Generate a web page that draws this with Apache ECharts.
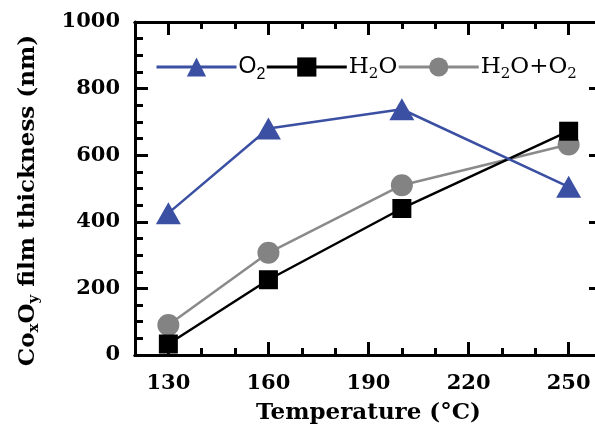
<!DOCTYPE html>
<html><head><meta charset="utf-8">
<script src="https://cdn.jsdelivr.net/npm/echarts@6/dist/echarts.min.js"></script>
<style>html,body{margin:0;padding:0;background:#fff}#c{width:595px;height:425px}</style>
</head><body><div id="c"></div>
<script>
const temperatures = [130, 160, 200, 250];
const o2Values = [426, 680, 738, 505];
const h2oValues = [33, 226, 440, 672];
const mixValues = [90, 307, 510, 632];
const xTickLabels = [130, 160, 190, 220, 250];
const yTickLabels = [0, 200, 400, 600, 800, 1000];
const seriesNames = ['O2', 'H2O', 'H2O+O2'];

const SERIF = '"DejaVu Serif", serif';
const SANS = '"Liberation Sans", Arial, sans-serif';
const pairs = v => temperatures.map((t, i) => [t, v[i]]);

const chart = echarts.init(document.getElementById('c'), null, {renderer: 'canvas'});
const axisLine = {show: true, lineStyle: {color: '#000', width: 3}};
const xBase = {type: 'value', min: 120, max: 260, splitLine: {show: false}, axisLine: axisLine};
const yBase = {type: 'value', min: 0, max: 1000, interval: 200, splitLine: {show: false}, axisLine: axisLine};

const option = {
  animation: false,
  grid: {left: 135, width: 467, top: 22, height: 333, containLabel: false, outerBoundsMode: 'none'},
  legend: {
    left: 150, top: 46, itemWidth: 80, itemHeight: 24, itemGap: 0,
    data: seriesNames.map(n => ({name: n})),
    lineStyle: {width: 3},
    formatter: function (n) {
      if (n === 'O2') return '{s|O}{ss|2}';
      if (n === 'H2O') return '{r|H}{rs|2}{r|O}';
      return '{r|H}{rs|2}{r|O+O}{rs|2}';
    },
    textStyle: {
      padding: [0, 0, 0, -3],
      rich: {
        s: {fontFamily: SANS, fontSize: 23, color: '#000', lineHeight: 28},
        ss: {fontFamily: SANS, fontSize: 16, color: '#000', padding: [16, 0, 0, 0], lineHeight: 28},
        r: {fontFamily: SERIF, fontSize: 23, color: '#000', lineHeight: 28},
        rs: {fontFamily: SERIF, fontSize: 15, color: '#000', padding: [14, 0, 0, 0], lineHeight: 28}
      }
    }
  },
  xAxis: [
    Object.assign({}, xBase, {
      position: 'bottom',
      axisTick: {show: true, inside: true, length: 13, lineStyle: {width: 3, color: '#000'}, customValues: xTickLabels},
      axisLabel: {show: true, customValues: xTickLabels, margin: 18, fontFamily: SERIF, fontWeight: 'bold', fontSize: 21, color: '#000'},
      name: 'Temperature (°C)', nameLocation: 'middle', nameGap: 47,
      nameTextStyle: {fontFamily: SERIF, fontWeight: 'bold', fontSize: 23, color: '#000'}
    }),
    Object.assign({}, xBase, {
      position: 'bottom', interval: 10,
      axisTick: {show: true, inside: true, length: 7, lineStyle: {width: 3, color: '#000'}},
      axisLabel: {show: false}
    }),
    Object.assign({}, xBase, {
      position: 'top',
      axisTick: {show: true, inside: true, length: 13, lineStyle: {width: 3, color: '#000'}, customValues: xTickLabels},
      axisLabel: {show: false}
    }),
    Object.assign({}, xBase, {
      position: 'top', interval: 10,
      axisTick: {show: true, inside: true, length: 7, lineStyle: {width: 3, color: '#000'}},
      axisLabel: {show: false}
    })
  ],
  yAxis: [
    Object.assign({}, yBase, {
      position: 'left',
      axisTick: {show: true, inside: true, length: 13, lineStyle: {width: 3, color: '#000'}},
      minorTick: {show: true, splitNumber: 4, length: 8, lineStyle: {width: 3, color: '#000'}},
      axisLabel: {show: true, margin: 15, fontFamily: SERIF, fontWeight: 'bold', fontSize: 21, color: '#000',
        formatter: v => yTickLabels.includes(v) ? String(v) : ''},
      name: '{t|Co}{sb|x}{t|O}{sb|y}{t| film thickness (nm)}', nameLocation: 'middle', nameGap: 93,
      nameTextStyle: {
        padding: [0, 24, 0, 0],
        rich: {
          t: {fontFamily: SERIF, fontWeight: 'bold', fontSize: 23, color: '#000', lineHeight: 28},
          sb: {fontFamily: SERIF, fontWeight: 'bold', fontSize: 15, color: '#000', padding: [13, 0, 0, 0], lineHeight: 28}
        }
      }
    }),
    Object.assign({}, yBase, {
      position: 'right',
      axisTick: {show: true, inside: true, length: 13, lineStyle: {width: 3, color: '#000'}},
      minorTick: {show: true, splitNumber: 4, length: 6, lineStyle: {width: 3, color: '#000'}},
      axisLabel: {show: false}
    })
  ],
  series: [
    {name: 'H2O+O2', type: 'line', data: pairs(mixValues), symbol: 'circle', symbolSize: 22,
      lineStyle: {color: '#8a8a8a', width: 2.5}, itemStyle: {color: '#838383'}, z: 2},
    {name: 'H2O', type: 'line', data: pairs(h2oValues), symbol: 'rect', symbolSize: 19,
      lineStyle: {color: '#000', width: 2.5}, itemStyle: {color: '#000'}, z: 3},
    {name: 'O2', type: 'line', data: pairs(o2Values), symbol: 'triangle', symbolSize: [25, 22],
      lineStyle: {color: '#3b50a3', width: 2.5}, itemStyle: {color: '#3b50a3'}, z: 4}
  ]
};
chart.setOption(option);
</script></body></html>
